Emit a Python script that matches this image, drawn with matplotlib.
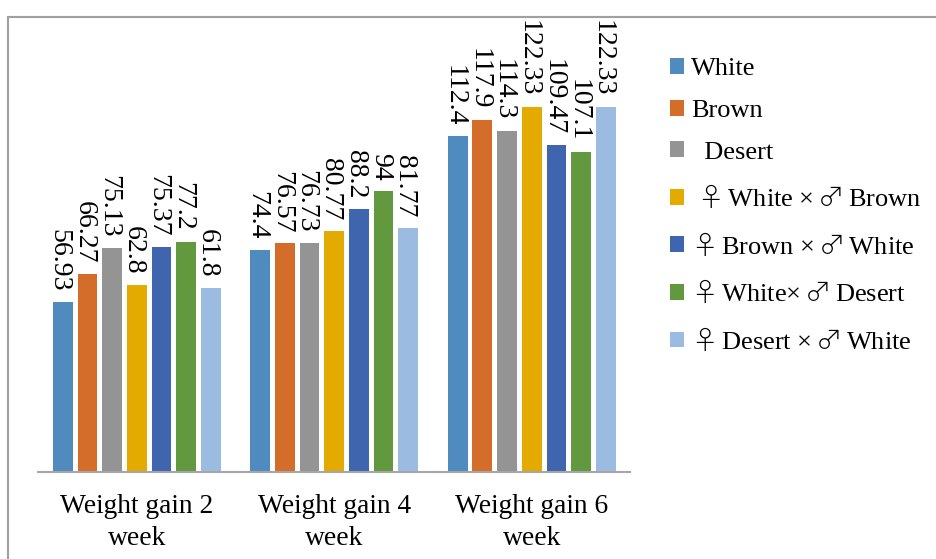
import numpy as np
import matplotlib
matplotlib.use('Agg')
import matplotlib.pyplot as plt
from matplotlib.patches import Rectangle

plt.rcParams['font.family'] = ['Liberation Serif', 'DejaVu Sans']
# sex symbols are set in math mode so they come from a font with full-size glyphs
plt.rcParams['mathtext.fontset'] = 'custom'
plt.rcParams['mathtext.rm'] = 'Noto Sans CJK JP:light'
plt.rcParams['mathtext.it'] = 'Noto Sans CJK JP:light'

F = '$\\mathrm{\u2640}\\,$'
M = '$\\,\\mathrm{\u2642}\\,$'

periods = ['Weight gain 2\nweek', 'Weight gain 4\nweek', 'Weight gain 6\nweek']
groups = ['White', 'Brown', '  Desert', f' {F}White \u00d7{M}Brown',
          f'{F}Brown \u00d7{M}White', f'{F}White\u00d7{M}Desert',
          f'{F}Desert \u00d7{M}White']
white = [56.93, 74.4, 112.4]
brown = [66.27, 76.57, 117.9]
desert = [75.13, 76.73, 114.3]
wxb = [62.8, 80.77, 122.33]
bxw = [75.37, 88.2, 109.47]
wxd = [77.2, 94, 107.1]
dxw = [61.8, 81.77, 122.33]
colors = ['#4F8BBF', '#D56D2A', '#949494', '#E3AA00', '#3E65AD', '#62993F', '#9BBBE0']

series = [white, brown, desert, wxb, bxw, wxd, dxw]

fig = plt.figure(figsize=(9.36, 5.59), dpi=100)
ax = fig.add_axes([0.0406, 0.1556, 0.633, 0.8086])

x = np.arange(len(periods))
slot = 0.125
width = 0.10
for i, (vals, c, name) in enumerate(zip(series, colors, groups)):
    pos = x + (i - 3) * slot
    bars = ax.bar(pos, vals, width, color=c, label=name)
    for xp, v in zip(pos, vals):
        ax.annotate(f'{v:g}', (xp, v), xytext=(-2.5, 7.5), textcoords='offset points',
                    rotation=-90, ha='center', va='bottom', fontsize=20,
                    annotation_clip=False)

ax.set_xlim(-0.5, 2.5)
ax.set_ylim(0, 151.4)
ax.set_xticks(x)
ax.set_xticklabels(periods, fontsize=19.8, linespacing=1.37)
ax.tick_params(axis='x', length=0, pad=16)
ax.set_yticks([])
for s in ['top', 'left', 'right']:
    ax.spines[s].set_visible(False)
ax.spines['bottom'].set_color('#A6A6A6')
ax.spines['bottom'].set_linewidth(1.5)

ax.legend(loc='upper left', bbox_to_anchor=(0.7155, 0.8966), bbox_transform=fig.transFigure,
          frameon=False, fontsize=19, handlelength=0.55, handleheight=0.55,
          handletextpad=0.25, labelspacing=0.74, borderaxespad=0, borderpad=0)

# outer frame
fig.patches.append(Rectangle((8 / 936, -0.1), 1.2, 1.1 - 17 / 559, transform=fig.transFigure,
                             fill=False, edgecolor='#A0A0A0', linewidth=1.5))

fig.savefig('out.png', dpi=100)
